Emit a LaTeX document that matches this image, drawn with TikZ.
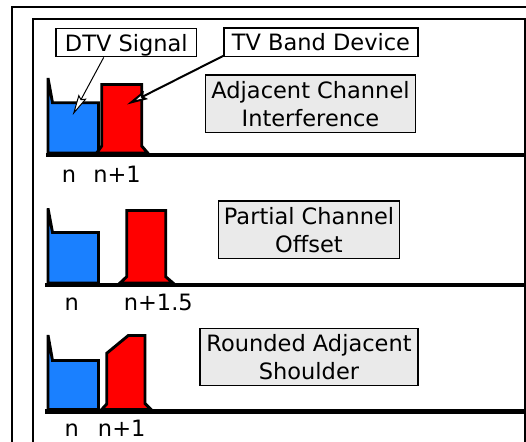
\documentclass[tikz,border=0pt]{standalone}
\usepackage{fontspec}
\setmainfont{DejaVu Sans}
\usetikzlibrary{arrows.meta,calc}
\definecolor{sigblue}{RGB}{26,128,255}
\definecolor{devred}{RGB}{255,0,0}
\definecolor{boxgray}{RGB}{234,234,234}
\begin{document}
\begin{tikzpicture}[x=1pt,y=-1pt,
  lbl/.style={draw=black,line width=1.4pt,fill=white,inner sep=0pt,text depth=0pt,
    font=\fontsize{22.5}{28}\selectfont},
  titlebox/.style={draw=black,line width=1.4pt,fill=boxgray,inner sep=0pt,align=center,
    text depth=0pt,font=\fontsize{22.5}{28}\selectfont},
  chan/.style={anchor=base,inner sep=0pt,font=\fontsize{22.5}{28}\selectfont},
  sig/.style={draw=black,line width=2.9pt,line join=miter,fill=sigblue},
  dev/.style={draw=black,line width=2.9pt,line join=miter,fill=devred},
  axis/.style={line width=4.8pt},
  pointer/.style={-{Stealth[length=21pt,width=9pt,inset=3pt,fill=white]}}]
\clip (0,0) rectangle (526,441);
\fill[white] (0,0) rectangle (526,441);
% frames
\draw[line width=1.4pt] (12,7) rectangle (560,470);
\draw[line width=1.4pt] (33,19) rectangle (525,470);

% ---- panel 1 ----
\draw[axis] (46,155) -- (526,155);
\draw[sig] (48,153) -- (48,78) -- (52.5,102.7) -- (98.5,102.7) -- (98.5,153) -- cycle;
\draw[dev] (96.7,153) -- (101.7,146) -- (101.7,84.5) -- (141.7,84.5) -- (141.7,146) -- (147.7,153) -- cycle;
\node[chan] (n1) at (69,182) {n};
\node[chan] (n1p) at (117,182) {n+1};
\node[lbl,minimum width=140.7pt,minimum height=28.4pt] (dtv) at (126.3,42.5) {DTV Signal};
\node[lbl,minimum width=194pt,minimum height=28.7pt] (tvbd) at (321,42.3) {TV Band Device};
\node[titlebox,minimum width=209.6pt,minimum height=57.7pt] (aci) at (310.5,103.8) {Adjacent Channel\\Interference};
\coordinate (tipdtv) at (72.7,115);
\coordinate (tiptv) at (127,104.5);
\draw[pointer,line width=1pt] ($(dtv.south west)!0.341!(dtv.south east)$) -- (tipdtv);
\draw[pointer,line width=2pt] ($(tvbd.south west)+(0,-1.5)$) -- (tiptv);

% ---- panel 2 ----
\draw[axis] (45,285) -- (526,285);
\draw[sig] (48,283) -- (48,208.3) -- (52.5,232.5) -- (98.5,232.5) -- (98.5,283) -- cycle;
\draw[dev] (120,283) -- (126.7,276.7) -- (126.7,210.5) -- (165.7,210.5) -- (165.7,276.7) -- (173,283) -- cycle;
\node[chan] (n2) at (71.7,310) {n};
\node[chan] (n2p) at (158.3,310) {n+1.5};
\node[titlebox,minimum width=181.4pt,minimum height=57.3pt] (pco) at (309,229.7) {Partial Channel\\Offset};

% ---- panel 3 ----
\draw[axis] (45,411.7) -- (526,411.7);
\draw[sig] (48,409.5) -- (48,335) -- (52.5,360.5) -- (98.5,360.5) -- (98.5,409.5) -- cycle;
\draw[dev] (101.7,409.5) -- (106.7,404) -- (106.7,353.3) -- (128.3,335.5) -- (145,335.5) -- (145,403.5) -- (151,409.5) -- cycle;
\node[chan] (n3) at (71.7,436.7) {n};
\node[chan] (n3p) at (121.7,436.7) {n+1};
\node[titlebox,minimum width=218pt,minimum height=57.4pt] (ras) at (309,357) {Rounded Adjacent\\Shoulder};
\end{tikzpicture}
\end{document}
